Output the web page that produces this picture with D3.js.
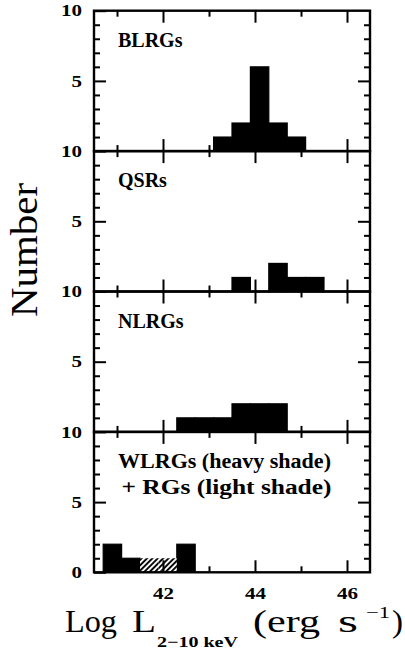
<!DOCTYPE html>
<html>
<head>
<meta charset="utf-8">
<script src="https://cdn.jsdelivr.net/npm/d3@7"></script>
<style>
  body { margin: 0; background: #fff; }
  svg { display: block; }
</style>
</head>
<body>
<script>
// histogram bins (left edges, log L 2-10 keV), width 0.4 dex
const binStarts = [40.7, 41.1, 41.5, 41.9, 42.3, 42.7, 43.1, 43.5, 43.9, 44.3, 44.7, 45.1];
const binWidth = 0.4;

// counts per bin
const blrg = [0, 0, 0, 0, 0, 0, 1, 2, 6, 2, 1, 0];
const qsr  = [0, 0, 0, 0, 0, 0, 0, 1, 0, 2, 1, 1];
const nlrg = [0, 0, 0, 0, 1, 1, 1, 2, 2, 2, 0, 0];
const wlrg = [2, 1, 0, 0, 2, 0, 0, 0, 0, 0, 0, 0];  // heavy shade
const rg   = [0, 0, 1, 1, 0, 0, 0, 0, 0, 0, 0, 0];  // light shade (hatched)

const panelNames = [["BLRGs"], ["QSRs"], ["NLRGs"], ["WLRGs (heavy shade)", "+ RGs (light shade)"]];
const panelHeavy = [blrg, qsr, nlrg, wlrg];
const panelLight = [null, null, null, rg];

const xMajor = [42, 44, 46], xMinor = [41, 43, 45];
const yMinor = [1, 2, 3, 4, 6, 7, 8, 9];

const width = 405, height = 652;
const left = 94, right = 370, top0 = 10.7, ph = 140.4;
const serif = "'Liberation Serif', 'DejaVu Serif', serif";

const svg = d3.select("body").append("svg")
  .attr("width", width)
  .attr("height", height);

const pat = svg.append("defs").append("pattern")
  .attr("id", "hatch")
  .attr("patternUnits", "userSpaceOnUse")
  .attr("width", 3.8).attr("height", 3.8)
  .attr("patternTransform", "rotate(45)");
pat.append("rect").attr("width", 3.8).attr("height", 3.8).attr("fill", "#fff");
pat.append("line").attr("x1", 1).attr("x2", 1).attr("y1", 0).attr("y2", 3.8)
  .attr("stroke", "#000").attr("stroke-width", 1.9);

const x = d3.scaleLinear().domain([40.5, 46.5]).range([left, right]);

function styleAxis(g) {
  g.select(".domain").remove();
  g.selectAll(".tick line").attr("stroke", "#000").attr("stroke-width", 2);
  g.selectAll(".tick text")
    .attr("fill", "#000")
    .attr("textLength", function() { return this.textContent.length * 10.5; })
    .attr("lengthAdjust", "spacingAndGlyphs")
    .style("font-family", serif)
    .style("font-weight", "bold")
    .style("font-size", "16px");
}

panelHeavy.forEach((heavy, i) => {
  const y0 = top0 + i * ph;
  const y = d3.scaleLinear().domain([0, 10]).range([y0 + ph, y0]);
  const g = svg.append("g");
  const last = i === panelHeavy.length - 1;

  const heavyBars = binStarts.map((s, j) => ({s, v: heavy[j]})).filter(d => d.v > 0);
  g.selectAll("rect.heavy").data(heavyBars).join("rect")
    .attr("class", "heavy")
    .attr("x", d => x(d.s))
    .attr("width", d => x(d.s + binWidth) - x(d.s))
    .attr("y", d => y(d.v))
    .attr("height", d => y(0) - y(d.v))
    .attr("fill", "#000")
    .attr("stroke", "#000")
    .attr("stroke-width", 1.2);

  const light = panelLight[i];
  if (light) {
    const lightBars = binStarts.map((s, j) => ({s, b: heavy[j], v: light[j]})).filter(d => d.v > 0);
    g.selectAll("rect.light").data(lightBars).join("rect")
      .attr("class", "light")
      .attr("x", d => x(d.s))
      .attr("width", d => x(d.s + binWidth) - x(d.s))
      .attr("y", d => y(d.b + d.v))
      .attr("height", d => y(d.b) - y(d.b + d.v))
      .attr("fill", "url(#hatch)");
  }

  // ticks on all four sides, pointing inwards
  g.append("g").attr("transform", `translate(${left},0)`)
    .call(d3.axisLeft(y).tickValues(last ? [0, 5, 10] : [5, 10]).tickSize(-12).tickPadding(12))
    .call(styleAxis);
  g.append("g").attr("transform", `translate(${left},0)`)
    .call(d3.axisLeft(y).tickValues(yMinor).tickSize(-6).tickFormat(""))
    .call(styleAxis);
  g.append("g").attr("transform", `translate(${right},0)`)
    .call(d3.axisRight(y).tickValues([5]).tickSize(-12).tickFormat(""))
    .call(styleAxis);
  g.append("g").attr("transform", `translate(${right},0)`)
    .call(d3.axisRight(y).tickValues(yMinor).tickSize(-6).tickFormat(""))
    .call(styleAxis);
  const bottom = d3.axisBottom(x).tickValues(xMajor).tickSize(-12).tickPadding(15)
    .tickFormat(last ? d3.format("d") : "");
  g.append("g").attr("transform", `translate(0,${y(0)})`)
    .call(bottom)
    .call(styleAxis);
  g.append("g").attr("transform", `translate(0,${y(0)})`)
    .call(d3.axisBottom(x).tickValues(xMinor).tickSize(-6).tickFormat(""))
    .call(styleAxis);
  g.append("g").attr("transform", `translate(0,${y(10)})`)
    .call(d3.axisTop(x).tickValues(xMajor).tickSize(-12).tickFormat(""))
    .call(styleAxis);
  g.append("g").attr("transform", `translate(0,${y(10)})`)
    .call(d3.axisTop(x).tickValues(xMinor).tickSize(-6).tickFormat(""))
    .call(styleAxis);

  g.append("rect")
    .attr("x", left).attr("y", y0)
    .attr("width", right - left).attr("height", ph)
    .attr("fill", "none").attr("stroke", "#000").attr("stroke-width", 2.4);

  const lens = [213, 210];
  panelNames[i].forEach((t, k) => {
    const txt = g.append("text")
      .attr("x", k === 0 ? 118 : 121.5)
      .attr("y", y0 + 36 + k * 26)
      .style("font-family", serif)
      .style("font-weight", "bold")
      .style("font-size", "20px")
      .text(t);
    if (panelNames[i].length > 1) txt.attr("textLength", lens[k]).attr("lengthAdjust", "spacingAndGlyphs");
  });
});

// axis titles
svg.append("text")
  .attr("transform", "translate(37,250) rotate(-90)")
  .attr("text-anchor", "middle")
  .attr("textLength", 134)
  .attr("lengthAdjust", "spacingAndGlyphs")
  .style("font-family", serif)
  .style("font-size", "37px")
  .text("Number");

const xt = svg.append("g")
  .style("font-family", serif)
  .style("font-size", "31px");
const piece = (t, x0, len, yb, size, bold) => {
  const e = xt.append("text").attr("x", x0).attr("y", yb).text(t);
  if (len) e.attr("textLength", len).attr("lengthAdjust", "spacingAndGlyphs");
  if (size) e.style("font-size", size + "px");
  if (bold) e.style("font-weight", "bold");
};
piece("Log", 65, 52, 632);
piece("L", 132, 24, 632);
piece("2\u221210 keV", 157, 81, 646.5, 15, true);
piece("(erg", 253, 67, 632);
piece("s", 338, 20, 632);
piece("\u22121", 366, 24, 618, 16);
piece(")", 392, 11, 632);
</script>
</body>
</html>
